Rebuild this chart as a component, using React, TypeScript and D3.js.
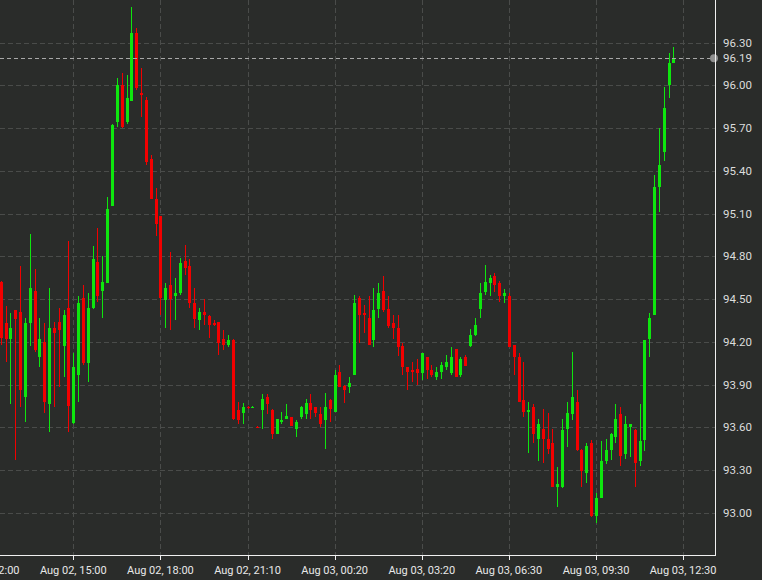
import React from "react";
import * as d3 from "d3";

const opens = [94.62,94.33,94.22,94.42,94.41,93.81,94.33,94.56,94.09,94.20,93.76,94.30,94.34,94.17,94.44,93.63,93.97,94.51,94.05,94.44,94.76,94.56,94.61,95.15,95.74,96.00,95.74,95.89,96.37,95.95,95.90,95.48,95.20,95.08,94.49,94.60,94.52,94.54,94.77,94.73,94.47,94.35,94.41,94.38,94.33,94.34,94.22,94.18,94.21,93.72,93.70,93.745,93.74,93.605,93.72,93.81,93.72,93.55,93.64,93.66,93.67,93.59,93.67,93.69,93.77,93.74,93.69,93.65,93.79,93.71,93.99,93.89,93.88,93.97,94.51,94.40,94.37,94.21,94.43,94.56,94.43,94.33,94.30,94.17,94.02,94.00,94.01,93.98,94.09,94.00,93.95,93.99,94.02,93.98,94.15,93.97,94.09,94.17,94.25,94.43,94.55,94.61,94.66,94.61,94.52,94.52,94.18,94.09,93.79,93.71,93.74,93.52,93.59,93.52,93.49,93.18,93.18,93.59,93.69,93.78,93.44,93.28,93.49,92.98,93.10,93.36,93.44,93.53,93.69,93.41,93.60,93.58,93.36,93.51,94.22,94.39,95.29,95.53,96.00,96.16];
const highs = [94.63,94.45,94.40,94.42,94.73,94.37,94.96,94.71,94.37,94.33,94.58,94.34,94.44,94.42,94.91,94.12,94.52,94.60,94.54,94.87,95.00,94.80,95.22,95.73,96.05,96.09,96.07,96.55,96.40,96.12,95.92,95.51,95.28,95.08,94.61,94.83,94.65,94.79,94.88,94.78,94.58,94.44,94.50,94.39,94.35,94.34,94.28,94.25,94.22,93.78,93.77,93.75,93.75,93.61,93.83,93.83,93.73,93.66,93.71,93.76,93.67,93.65,93.75,93.80,93.83,93.74,93.74,93.84,93.80,94.00,94.04,93.90,93.95,94.53,94.52,94.46,94.52,94.58,94.61,94.66,94.52,94.39,94.39,94.19,94.02,94.06,94.08,94.12,94.09,94.04,94.02,94.06,94.11,94.16,94.15,94.09,94.11,94.29,94.37,94.61,94.74,94.67,94.68,94.63,94.57,94.54,94.18,94.12,94.06,93.78,93.76,93.66,93.73,93.70,93.59,93.32,93.66,93.78,94.13,93.86,93.45,93.49,93.51,93.14,93.50,93.52,93.56,93.76,93.74,93.68,93.62,93.59,93.76,94.21,94.40,95.37,95.70,95.99,96.23,96.27];
const lows = [94.18,94.06,93.76,93.37,93.74,93.64,94.17,94.13,94.02,93.70,93.57,93.74,93.88,93.95,93.57,93.62,93.78,94.04,93.92,94.43,94.48,94.37,94.61,95.15,95.71,95.70,95.73,95.89,95.97,95.78,95.44,95.20,94.94,94.39,94.30,94.28,94.35,94.53,94.67,94.44,94.30,94.28,94.32,94.23,94.31,94.11,94.14,94.16,93.65,93.62,93.62,93.73,93.735,93.60,93.59,93.69,93.52,93.55,93.62,93.66,93.61,93.53,93.66,93.66,93.66,93.67,93.60,93.45,93.64,93.71,93.88,93.77,93.84,93.97,94.19,94.26,94.18,94.16,94.37,94.41,94.30,94.22,94.10,93.97,93.86,93.92,93.90,93.93,93.94,93.95,93.93,93.94,94.00,93.97,93.95,93.95,94.03,94.16,94.24,94.37,94.53,94.52,94.55,94.48,94.47,94.16,93.97,93.78,93.67,93.42,93.49,93.36,93.35,93.41,93.18,93.04,93.17,93.46,93.65,93.43,93.18,93.21,92.97,92.93,93.10,93.34,93.37,93.49,93.33,93.38,93.39,93.18,93.33,93.43,94.09,94.39,95.11,95.47,95.91,96.16];
const closes = [94.23,94.22,94.30,94.36,93.86,94.33,94.58,94.14,94.22,93.78,94.30,94.26,94.28,94.39,93.75,94.02,94.47,94.05,94.44,94.78,94.52,94.62,95.13,95.72,96.00,95.71,95.91,96.37,95.98,95.93,95.46,95.20,95.03,94.51,94.58,94.50,94.54,94.75,94.72,94.47,94.36,94.41,94.39,94.32,94.32,94.19,94.18,94.21,93.66,93.65,93.74,93.735,93.745,93.60,93.80,93.76,93.55,93.66,93.65,93.68,93.61,93.64,93.74,93.77,93.72,93.70,93.62,93.74,93.73,93.97,93.88,93.86,93.91,94.47,94.39,94.39,94.18,94.42,94.54,94.42,94.31,94.30,94.16,94.02,93.99,93.99,93.98,94.12,94.00,93.97,93.99,94.04,94.06,94.09,93.95,94.08,94.03,94.25,94.32,94.54,94.62,94.65,94.60,94.52,94.54,94.16,94.09,93.78,93.71,93.72,93.55,93.62,93.52,93.45,93.18,93.20,93.58,93.70,93.81,93.44,93.29,93.47,92.98,93.10,93.36,93.44,93.55,93.66,93.40,93.62,93.62,93.35,93.50,94.21,94.37,95.29,95.44,95.84,96.16,96.19];

const xTickIndex = [-3, 15, 33, 51, 69, 87, 105, 123, 141];
const xTickLabels = ["Aug 02, 12:00","Aug 02, 15:00","Aug 02, 18:00","Aug 02, 21:10","Aug 03, 00:20","Aug 03, 03:20","Aug 03, 06:30","Aug 03, 09:30","Aug 03, 12:30"];
const yTicks = [93.0, 93.3, 93.6, 93.9, 94.2, 94.5, 94.8, 95.1, 95.4, 95.7, 96.0, 96.3];
const lastPrice = 96.19;

const W = 762;
const H = 580;
const AXIS_X = 715;
const AXIS_Y = 556;
const BG = "#2a2c2a";
const GRID = "#4a4c4a";
const UP = "#0ee60e";
const DOWN = "#f20000";
const FONT = "Roboto, sans-serif";

export default function App() {
  const x = d3.scaleLinear().domain([15, 123]).range([73.3, 596]);
  const y = d3.scaleLinear().domain([93.0, 96.3]).range([512.7, 42.7]);

  const candles = opens.map((o, i) => ({ i, o, h: highs[i], l: lows[i], c: closes[i] }));

  return (
    <svg width={W} height={H} style={{ position: "absolute", left: 0, top: 0, display: "block" }}>
      <rect x={0} y={0} width={W} height={H} fill={BG} />
      <g stroke={GRID} strokeWidth={1} strokeDasharray="5,3" shapeRendering="crispEdges">
        {yTicks.map((t) => (
          <line key={"hy" + t} x1={0} x2={AXIS_X} y1={Math.round(y(t)) + 0.5} y2={Math.round(y(t)) + 0.5} />
        ))}
        {xTickIndex.map((t) => (
          <line key={"vx" + t} x1={Math.round(x(t)) + 0.5} x2={Math.round(x(t)) + 0.5} y1={0} y2={AXIS_Y} />
        ))}
      </g>
      <g shapeRendering="crispEdges">
        {candles.map((d) => {
          const cx = Math.round(x(d.i));
          const up = d.c >= d.o;
          const col = up ? UP : DOWN;
          const yTop = y(Math.max(d.o, d.c));
          const yBot = y(Math.min(d.o, d.c));
          const top = Math.round(yTop);
          const hgt = Math.max(1, Math.round(yBot) - top);
          return (
            <g key={d.i}>
              <rect x={cx} y={Math.round(y(d.h))} width={1} height={Math.max(1, Math.round(y(d.l)) - Math.round(y(d.h)))} fill={col} />
              <rect x={cx - 1} y={top} width={3} height={hgt} fill={col} />
            </g>
          );
        })}
      </g>
      <line x1={0} x2={AXIS_X - 4} y1={Math.round(y(lastPrice)) + 0.5} y2={Math.round(y(lastPrice)) + 0.5} stroke="#a8a8a8" strokeDasharray="4,3" shapeRendering="crispEdges" />
      <circle cx={AXIS_X - 1} cy={y(lastPrice)} r={4} fill="#8e8e8e" />
      <line x1={AXIS_X + 0.5} x2={AXIS_X + 0.5} y1={0} y2={AXIS_Y} stroke="#f0f0f0" shapeRendering="crispEdges" />
      <line x1={0} x2={AXIS_X + 1} y1={AXIS_Y - 0.5} y2={AXIS_Y - 0.5} stroke="#f0f0f0" shapeRendering="crispEdges" />
      {xTickIndex.map((t) => (
        <line key={"tk" + t} x1={Math.round(x(t)) + 0.5} x2={Math.round(x(t)) + 0.5} y1={AXIS_Y} y2={AXIS_Y + 4} stroke="#f0f0f0" shapeRendering="crispEdges" />
      ))}
      <g fontFamily={FONT} fontSize={11.5} fill="#dcdcdc">
        {yTicks.map((t) => (
          <text key={"yl" + t} x={723} y={y(t)} dy="0.35em">{t.toFixed(2)}</text>
        ))}
        <text x={723} y={y(lastPrice)} dy="0.35em">{lastPrice.toFixed(2)}</text>
      </g>
      <g fontFamily={FONT} fontSize={11} fill="#e8e8e8" textAnchor="middle">
        {xTickIndex.map((t, k) => (
          <text key={"xl" + t} x={x(t)} y={570} dy="0.35em">{xTickLabels[k]}</text>
        ))}
      </g>
    </svg>
  );
}
